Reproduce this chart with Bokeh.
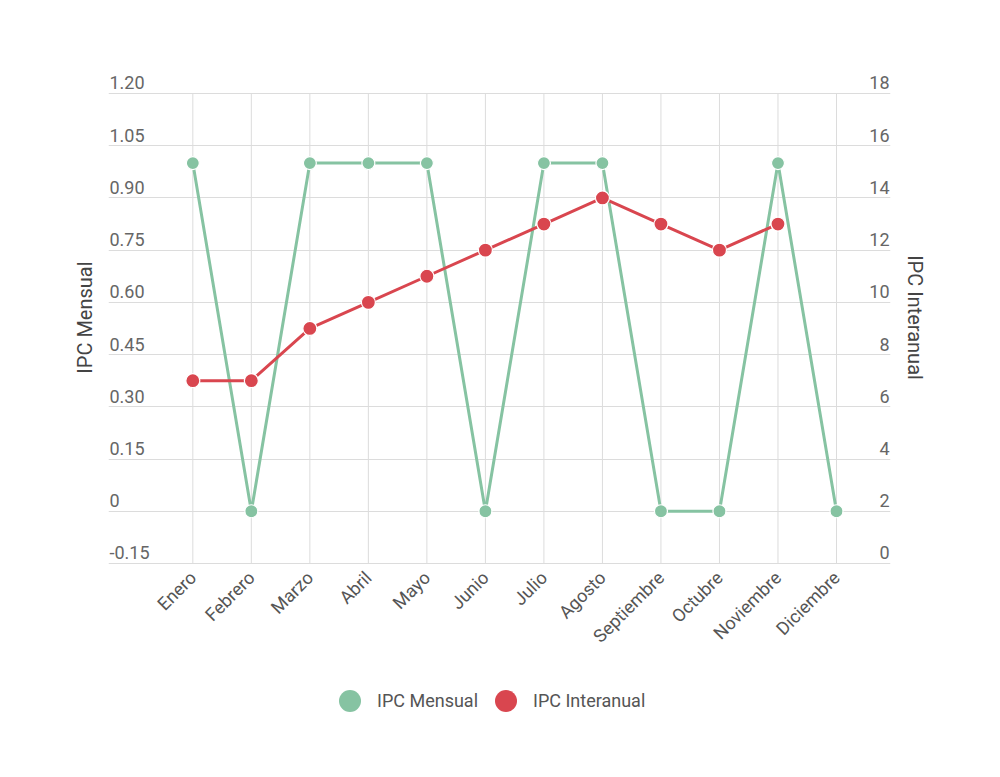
from math import pi
from bokeh.plotting import figure
from bokeh.layouts import column
from bokeh.models import (Range1d, LinearAxis, FixedTicker, ColumnDataSource,
                          LabelSet, Legend, LegendItem)
from bokeh.core.properties import value
from bokeh.embed import file_html
from bokeh.resources import INLINE

# ---- data ----
months = ["Enero", "Febrero", "Marzo", "Abril", "Mayo", "Junio", "Julio",
          "Agosto", "Septiembre", "Octubre", "Noviembre", "Diciembre"]
ipc_mensual = [1.0, 0.0, 1.0, 1.0, 1.0, 0.0, 1.0, 1.0, 0.0, 0.0, 1.0, 0.0]
ipc_interanual = [7, 7, 9, 10, 11, 12, 13, 14, 13, 12, 13]
left_ticks = [-0.15, 0.0, 0.15, 0.30, 0.45, 0.60, 0.75, 0.90, 1.05, 1.20]
left_tick_labels = ["-0.15", "0", "0.15", "0.30", "0.45", "0.60", "0.75",
                    "0.90", "1.05", "1.20"]
right_ticks = [0, 2, 4, 6, 8, 10, 12, 14, 16, 18]
right_tick_labels = ["0", "2", "4", "6", "8", "10", "12", "14", "16", "18"]

# ---- styling ----
FONT = "Roboto"
GREEN = "#86c3a2"
RED = "#d9464f"
GRID = "#dcdcdc"

xs = list(range(len(months)))
X_START, X_END = -1.441, 11.923
PAD = 0.003                  # keeps bottom grid line inside the frame
TOP_EXT = 0.066              # room above the top grid line for its label
L_START, L_END = left_ticks[0] - PAD, left_ticks[-1] + TOP_EXT
scale = (right_ticks[-1] - right_ticks[0]) / (left_ticks[-1] - left_ticks[0])
R_START = right_ticks[0] - PAD * scale
R_END = right_ticks[-1] + TOP_EXT * scale

W, H = 1000, 668
TOP, BOTTOM = 70, 104
p = figure(width=W, height=H,
           x_range=Range1d(X_START, X_END), y_range=Range1d(L_START, L_END),
           output_backend="svg", toolbar_location=None,
           min_border_left=108, min_border_right=110, min_border_top=TOP,
           min_border_bottom=BOTTOM)
p.extra_y_ranges = {"right": Range1d(R_START, R_END)}
p.outline_line_color = None
p.background_fill_color = "white"
p.border_fill_color = "white"

# x axis
p.xaxis.ticker = FixedTicker(ticks=xs)
p.xaxis.major_label_overrides = {i: m for i, m in enumerate(months)}
p.xaxis.major_label_orientation = pi / 4
p.xaxis.axis_line_color = None
p.xaxis.major_tick_line_color = None
p.xaxis.minor_tick_line_color = None
p.xaxis.major_tick_out = 0
p.xaxis.major_label_standoff = 10
p.xaxis.major_label_text_font = FONT
p.xaxis.major_label_text_font_size = "18px"
p.xaxis.major_label_text_color = "#555555"

# left axis (title only; tick labels are drawn above the grid lines)
p.yaxis.ticker = FixedTicker(ticks=[])
p.yaxis.axis_line_color = None
p.yaxis.axis_label = "IPC Mensual"
p.yaxis.axis_label_text_font = FONT
p.yaxis.axis_label_text_font_size = "20px"
p.yaxis.axis_label_text_font_style = "normal"
p.yaxis.axis_label_text_color = "#444444"
p.yaxis.axis_label_standoff = 12

raxis = LinearAxis(y_range_name="right", ticker=FixedTicker(ticks=[]),
                   axis_line_color=None, axis_label="IPC Interanual",
                   axis_label_text_font=FONT, axis_label_text_font_size="20px",
                   axis_label_text_font_style="normal",
                   axis_label_text_color="#444444", axis_label_standoff=12)
p.add_layout(raxis, "right")

# grids
p.ygrid.ticker = FixedTicker(ticks=left_ticks)
p.ygrid.grid_line_color = GRID
p.ygrid.grid_line_width = 1
p.xgrid.grid_line_color = None
n = len(xs)
p.segment(x0=xs, y0=[left_ticks[0]] * n, x1=xs, y1=[left_ticks[-1]] * n,
          line_color=GRID, line_width=1, level="underlay")

# tick labels sitting above the grid lines
lsrc = ColumnDataSource(dict(x=[X_START] * len(left_ticks), y=left_ticks,
                             t=left_tick_labels))
p.add_layout(LabelSet(x="x", y="y", text="t", source=lsrc, x_offset=1,
                      y_offset=4, text_align="left",
                      text_baseline="alphabetic", text_font=value(FONT),
                      text_font_size="18px", text_color="#666666"))
rsrc = ColumnDataSource(dict(x=[X_END] * len(right_ticks), y=right_ticks,
                             t=right_tick_labels))
p.add_layout(LabelSet(x="x", y="y", text="t", source=rsrc, x_offset=-1,
                      y_offset=4, text_align="right",
                      text_baseline="alphabetic", text_font=value(FONT),
                      text_font_size="18px", text_color="#666666",
                      y_range_name="right"))

# series
gsrc = ColumnDataSource(dict(x=xs, y=ipc_mensual))
isrc = ColumnDataSource(dict(x=xs[:len(ipc_interanual)], y=ipc_interanual))

p.line("x", "y", source=gsrc, line_color=GREEN, line_width=3)
p.scatter("x", "y", source=gsrc, size=13, fill_color=GREEN,
          line_color="white", line_width=1.2)
p.line("x", "y", source=isrc, line_color=RED, line_width=3,
       y_range_name="right")
p.scatter("x", "y", source=isrc, size=14, fill_color=RED,
          line_color="white", line_width=1.2, y_range_name="right")

# ---- legend strip below the chart ----
LH = 100
lg = figure(width=W, height=LH, x_range=Range1d(-100, -99),
            y_range=Range1d(-100, -99), output_backend="svg",
            toolbar_location=None, x_axis_type=None, y_axis_type=None,
            min_border=0)
lg.outline_line_color = None
lg.grid.visible = False
g_key = lg.scatter("x", "y", source=gsrc, fill_color=GREEN, line_color=None)
r_key = lg.scatter("x", "y", source=isrc, fill_color=RED, line_color=None)
legend = Legend(items=[LegendItem(label="IPC Mensual", renderers=[g_key]),
                       LegendItem(label="IPC Interanual", renderers=[r_key])],
                orientation="horizontal", location=(214, 40),
                glyph_width=55, glyph_height=55, label_standoff=0, spacing=0,
                label_text_font=FONT, label_text_font_size="18px",
                label_text_color="#555555", border_line_color=None,
                background_fill_alpha=0, margin=0, padding=6)
lg.add_layout(legend)

open("out.html", "w").write(file_html(column(p, lg), INLINE))
